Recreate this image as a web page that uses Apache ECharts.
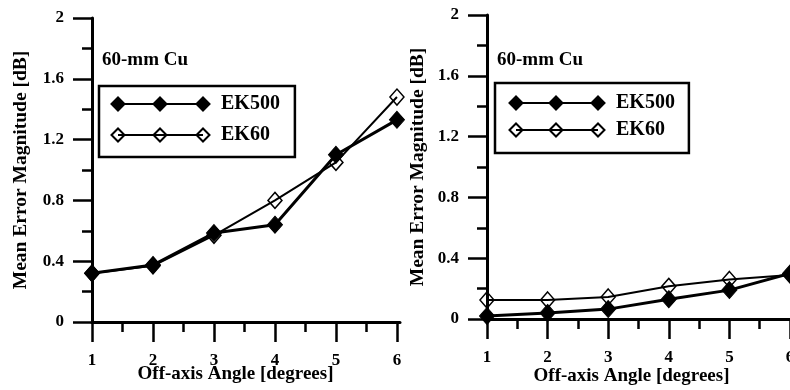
<!DOCTYPE html>
<html>
<head>
<meta charset="utf-8">
<script src="https://cdn.jsdelivr.net/npm/echarts@6/dist/echarts.min.js"></script>
<style>
html,body{margin:0;padding:0;background:#fff;}
#c{width:790px;height:390px;}
</style>
</head>
<body>
<div id="c"></div>
<script>
// ---- data ----
var angles = [1, 2, 3, 4, 5, 6];
var leftEK500 = [0.32, 0.375, 0.585, 0.64, 1.10, 1.33];
var leftEK60  = [0.32, 0.37, 0.57, 0.80, 1.05, 1.48];
var rightEK500 = [0.02, 0.04, 0.065, 0.13, 0.19, 0.30];
var rightEK60  = [0.125, 0.125, 0.145, 0.215, 0.26, 0.29];
var majorXTicks = [1, 2, 3, 4, 5, 6];
var minorXTicks = [1.5, 2.5, 3.5, 4.5, 5.5];
var panelLabel = '60-mm Cu';
var xTitle = 'Off-axis Angle [degrees]';
var yTitle = 'Mean Error Magnitude [dB]';
var seriesNames = ['EK500', 'EK60'];

function pairs(xs, ys) { return xs.map(function (x, i) { return [x, ys[i]]; }); }

var FONT = 'Liberation Serif';
var BLACK = '#000';

function iconPath(w, centers) {
  var h = 13, r = 6.5;
  var p = 'path://M' + centers[0] + ',' + r + ' L' + centers[2] + ',' + r;
  centers.forEach(function (c) {
    p += ' M' + (c - r) + ',' + r + ' L' + c + ',0 L' + (c + r) + ',' + r + ' L' + c + ',' + h + ' Z';
  });
  return p;
}
var iconL = iconPath(98, [6.5, 48.5, 91.5]);
var iconR = iconPath(95, [6.5, 46.5, 88.5]);

function legendData(icon) {
  return [
    { name: seriesNames[0], icon: icon, itemStyle: { color: BLACK, borderColor: BLACK, borderWidth: 2 } },
    { name: seriesNames[1], icon: icon, itemStyle: { color: 'rgba(0,0,0,0)', borderColor: BLACK, borderWidth: 2 } }
  ];
}

var axisLineStyle = { lineStyle: { color: BLACK, width: 3 } };
var tickLine = { color: BLACK, width: 2.5 };
var labelStyle = { color: BLACK, fontFamily: FONT, fontWeight: 'bold', fontSize: 17 };
var nameStyleX = { color: BLACK, fontFamily: FONT, fontWeight: 'bold', fontSize: 19 };
var nameStyleY = { color: BLACK, fontFamily: FONT, fontWeight: 'bold', fontSize: 19.5 };

function yAxis(gi, gap) {
  return {
    type: 'value', gridIndex: gi, min: 0, max: 2, interval: 0.4,
    name: yTitle, nameLocation: 'middle', nameGap: gap, nameTextStyle: nameStyleY,
    nameMoveOverlap: false,
    axisLine: axisLineStyle,
    axisTick: { show: true, length: 19, lineStyle: tickLine },
    minorTick: { show: true, splitNumber: 2, length: 10, lineStyle: tickLine },
    splitLine: { show: false },
    axisLabel: Object.assign({ margin: 28 }, labelStyle)
  };
}

function mkSeries(name, xi, yi, data, filled) {
  return {
    type: 'line', name: name, xAxisIndex: xi, yAxisIndex: yi,
    data: data, clip: false, animation: false, silent: true,
    symbol: 'diamond',
    symbolSize: filled ? [15, 17] : [14, 16],
    lineStyle: { color: BLACK, width: filled ? 3 : 2 },
    itemStyle: filled ? { color: BLACK, borderColor: BLACK, borderWidth: 1 }
                      : { color: 'rgba(0,0,0,0)', borderColor: BLACK, borderWidth: 1.5 },
    z: filled ? 3 : 2
  };
}

var titleStyle = { color: BLACK, fontFamily: FONT, fontWeight: 'bold', fontSize: 19 };

var option = {
  backgroundColor: '#fff',
  animation: false,
  title: [
    { text: panelLabel, left: 102, top: 51, padding: 0, textStyle: titleStyle },
    { text: panelLabel, left: 497, top: 51, padding: 0, textStyle: titleStyle }
  ],
  legend: [
    {
      orient: 'vertical', left: 99, top: 86, padding: [8, 15, 12, 11.5],
      itemWidth: 98, itemHeight: 13, itemGap: 11, selectedMode: false,
      borderColor: BLACK, borderWidth: 2.5,
      textStyle: { color: BLACK, fontFamily: FONT, fontWeight: 'bold', fontSize: 20, padding: [0, 0, 0, 6.5] },
      data: legendData(iconL)
    },
    {
      orient: 'vertical', left: 495, top: 83, padding: [10, 14, 13, 13.5],
      itemWidth: 95, itemHeight: 13, itemGap: 7, selectedMode: false,
      borderColor: BLACK, borderWidth: 2.5,
      textStyle: { color: BLACK, fontFamily: FONT, fontWeight: 'bold', fontSize: 20, padding: [0, 0, 0, 6.5] },
      data: legendData(iconR)
    }
  ],
  grid: [
    { left: 92, top: 18, width: 308, height: 304, containLabel: false, outerBoundsMode: 'none' },
    { left: 487, top: 15, width: 303, height: 304, containLabel: false, outerBoundsMode: 'none' }
  ],
  xAxis: [
    {
      type: 'value', gridIndex: 0, min: 1, max: 6.05, interval: 1, position: 'bottom',
      name: xTitle, nameLocation: 'middle', nameGap: 43, nameMoveOverlap: false,
      nameTextStyle: Object.assign({ padding: [0, 21, 0, 0] }, nameStyleX),
      axisLine: axisLineStyle,
      axisTick: { show: true, length: 20, lineStyle: tickLine, customValues: majorXTicks },
      splitLine: { show: false },
      axisLabel: Object.assign({ margin: 30, customValues: majorXTicks }, labelStyle)
    },
    {
      type: 'value', gridIndex: 0, min: 1, max: 6.05, position: 'bottom',
      axisLine: { show: false },
      axisTick: { show: true, length: 10, lineStyle: tickLine, customValues: minorXTicks },
      splitLine: { show: false },
      axisLabel: { show: false }
    },
    {
      type: 'value', gridIndex: 1, min: 1, max: 6, interval: 1,
      name: xTitle, nameLocation: 'middle', nameGap: 48, nameMoveOverlap: false,
      nameTextStyle: Object.assign({ padding: [0, 14, 0, 0] }, nameStyleX),
      axisLine: axisLineStyle,
      axisTick: { show: true, length: 20, lineStyle: tickLine },
      minorTick: { show: true, splitNumber: 2, length: 10, lineStyle: tickLine },
      splitLine: { show: false },
      axisLabel: Object.assign({ margin: 30 }, labelStyle)
    }
  ],
  yAxis: [yAxis(0, 61), yAxis(1, 59)],
  series: [
    mkSeries(seriesNames[1], 0, 0, pairs(angles, leftEK60), false),
    mkSeries(seriesNames[0], 0, 0, pairs(angles, leftEK500), true),
    mkSeries(seriesNames[1], 2, 1, pairs(angles, rightEK60), false),
    mkSeries(seriesNames[0], 2, 1, pairs(angles, rightEK500), true)
  ]
};

var chart = echarts.init(document.getElementById('c'), null, { renderer: 'canvas' });
chart.setOption(option);
</script>
</body>
</html>
